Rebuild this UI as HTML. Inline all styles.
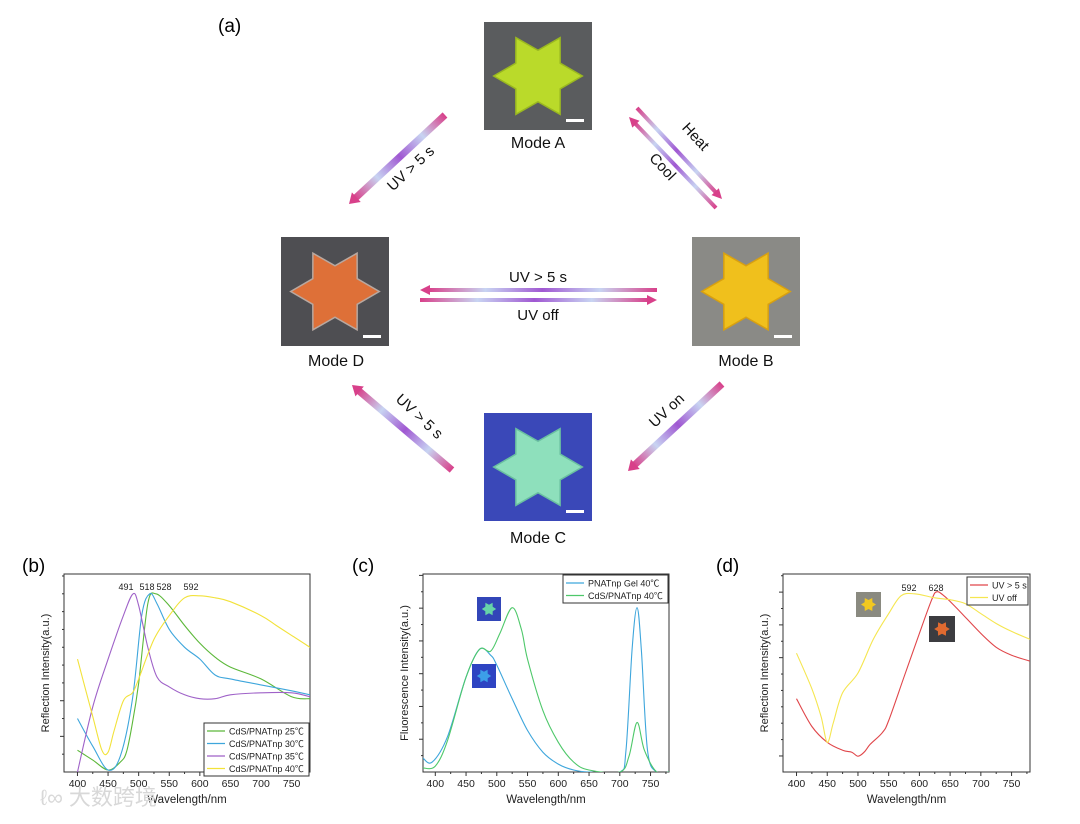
<!DOCTYPE html>
<html><head><meta charset="utf-8">
<style>
html,body{margin:0;padding:0;background:#fff;}
body{width:1080px;height:819px;overflow:hidden;font-family:"Liberation Sans","Noto Sans CJK SC",sans-serif;}
svg text{font-family:"Liberation Sans","Noto Sans CJK SC",sans-serif;}
</style></head>
<body>
<svg id="fig" width="1080" height="819" viewBox="0 0 1080 819" xmlns="http://www.w3.org/2000/svg">
<defs>
<linearGradient id="arrowGrad" x1="0" y1="0" x2="1" y2="0">
<stop offset="0" stop-color="#d8408a"/><stop offset="0.25" stop-color="#c8d4f2"/>
<stop offset="0.5" stop-color="#a058d2"/><stop offset="0.75" stop-color="#c8d4f2"/>
<stop offset="1" stop-color="#d8408a"/></linearGradient>
</defs>
<text x="218" y="32" font-size="19">(a)</text>
<text x="22" y="572" font-size="19">(b)</text>
<text x="352" y="572" font-size="19">(c)</text>
<text x="716" y="572" font-size="19">(d)</text>
<g id="diagram"></g>
<g id="charts"></g>
<text x="40" y="805" font-size="22" fill="#d8d8d8">ℓ∞ 大数跨境</text>
</svg>
<script>
// ---------- chart data ----------
const bWave25=[400,425,450,470,480,490,500,515,528,550,575,600,625,650,700,750,780];
const bVal25=[0.11,0.06,0.01,0.05,0.10,0.25,0.45,0.85,0.90,0.84,0.74,0.65,0.58,0.53,0.47,0.38,0.37];
const bWave30=[400,425,450,470,490,505,518,530,550,575,600,625,650,700,750,780];
const bVal30=[0.27,0.13,0.01,0.08,0.37,0.79,0.90,0.85,0.72,0.63,0.57,0.49,0.47,0.44,0.41,0.39];
const bWave35=[400,425,450,475,491,500,515,530,550,575,600,625,650,700,750,780];
const bVal35=[0.0,0.33,0.57,0.79,0.90,0.84,0.63,0.48,0.43,0.39,0.37,0.37,0.39,0.40,0.40,0.38];
const bWave40=[400,425,440,450,460,475,490,500,525,550,575,600,625,650,700,725,750,780];
const bVal40=[0.57,0.28,0.11,0.10,0.21,0.36,0.40,0.47,0.67,0.79,0.88,0.89,0.88,0.86,0.79,0.74,0.69,0.63];
const bPeaks=[491,518,528,592];
const xTicks=[400,450,500,550,600,650,700,750];

const cWaveGel=[380,395,420,450,472,490,500,525,550,575,600,625,650,700,710,720,728,735,745,760,780];
const cValGel=[0.07,0.05,0.18,0.48,0.62,0.59,0.54,0.37,0.21,0.10,0.04,0.01,0.0,0.0,0.11,0.62,0.83,0.62,0.11,0.0,0.0];
const cWaveCdS=[380,400,420,450,472,490,505,525,540,550,575,600,625,650,700,715,728,740,760,780];
const cValCdS=[0.02,0.03,0.16,0.48,0.62,0.61,0.70,0.83,0.72,0.57,0.31,0.15,0.05,0.01,0.0,0.08,0.25,0.11,0.0,0.0];

const dWaveOn=[400,425,450,475,490,500,510,520,540,550,575,600,620,628,640,660,700,725,750,780];
const dValOn=[0.37,0.23,0.15,0.11,0.10,0.08,0.10,0.14,0.20,0.26,0.48,0.70,0.87,0.91,0.89,0.83,0.70,0.63,0.59,0.56];
const dWaveOff=[400,425,440,450,460,475,500,525,550,570,592,625,650,675,700,725,750,780];
const dValOff=[0.60,0.42,0.28,0.15,0.25,0.40,0.50,0.67,0.80,0.89,0.90,0.88,0.87,0.85,0.80,0.75,0.71,0.67];
const dPeaks=[592,628];

const NS="http://www.w3.org/2000/svg";
function mk(tag,attrs,parent){const e=document.createElementNS(NS,tag);for(const k in attrs)e.setAttribute(k,attrs[k]);parent.appendChild(e);return e;}
function smooth(pts){let d="M"+pts[0][0].toFixed(1)+","+pts[0][1].toFixed(1);
 for(let i=0;i<pts.length-1;i++){const p0=pts[Math.max(0,i-1)],p1=pts[i],p2=pts[i+1],p3=pts[Math.min(pts.length-1,i+2)];
  const c1=[p1[0]+(p2[0]-p0[0])/6,p1[1]+(p2[1]-p0[1])/6],c2=[p2[0]-(p3[0]-p1[0])/6,p2[1]-(p3[1]-p1[1])/6];
  d+=" C"+c1[0].toFixed(1)+","+c1[1].toFixed(1)+" "+c2[0].toFixed(1)+","+c2[1].toFixed(1)+" "+p2[0].toFixed(1)+","+p2[1].toFixed(1);}
 return d;}
function starPts(cx,cy,R,ratio){const r=R*(ratio||0.6);let p=[];for(let i=0;i<12;i++){const a=-Math.PI/2+i*Math.PI/6+Math.PI/6;const rr=i%2?r:R;p.push((cx+rr*Math.cos(a)).toFixed(1)+","+(cy+rr*Math.sin(a)).toFixed(1));}return p.join(" ");}

const charts=document.getElementById('charts');
function panel(name,L,R,xmin,xmax,ylabel,tickStart,tickStep,series){
 const T=574,B=772;
 const g=mk('g',{},charts);
 
 
 const X=v=>L+(v-xmin)/(xmax-xmin)*(R-L);
 const Y=v=>B-v*(B-T);
 const frame=mk('rect',{x:L,y:T,width:R-L,height:B-T,fill:'none',stroke:'#333','stroke-width':1},g);
 
 
 xTicks.forEach(t=>{const x=X(t);
  const tk=mk('line',{x1:x,x2:x,y1:B,y2:B+4,stroke:'#333'},g);
  
  
  const tl=mk('text',{x:x,y:B+15,'font-size':10.5,'text-anchor':'middle',fill:'#222'},g);tl.textContent=t;
  
  });
 for(let t=xTicks[0]-25;t<=xmax;t+=50){if(t<xmin)continue;const x=X(t);mk('line',{x1:x,x2:x,y1:B,y2:B+2,stroke:'#333'},g);}
 for(let v=tickStart;v<1;v+=tickStep/2){const major=Math.abs(((v-tickStart)/tickStep)%1)<0.01;
  const y=Y(v);if(y>B-1)continue;const tk=mk('line',{x1:L-(major?4:2),x2:L,y1:y,y2:y,stroke:'#333'},g);
  
  }
 const xl=mk('text',{x:(L+R)/2,y:B+31,'font-size':11.5,'text-anchor':'middle',fill:'#222'},g);xl.textContent='Wavelength/nm';
 
 
 const yl=mk('text',{x:0,y:0,'font-size':11,'text-anchor':'middle',fill:'#222',transform:`translate(${L-15},${(T+B)/2}) rotate(-90)`},g);yl.textContent=ylabel;
 
 
 const cp=mk('clipPath',{id:'clip-'+name},g);mk('rect',{x:L,y:T,width:R-L,height:B-T},cp);
 series.forEach(s=>{const pts=s.w.map((w,i)=>[X(w),Y(s.v[i])]);
  const p=mk('path',{d:smooth(pts),fill:'none',stroke:s.c,'stroke-width':1.1,'clip-path':`url(#clip-${name})`},g);
  
  });
 return {g,X,Y};
}
const b=panel('chart-b',64,310,378,780,'Reflection Intensity(a.u.)',0,0.18,[
 {w:bWave25,v:bVal25,c:'#5cb83a',n:'line-25c'},{w:bWave30,v:bVal30,c:'#3ea6dc',n:'line-30c'},
 {w:bWave35,v:bVal35,c:'#9f62c8',n:'line-35c'},{w:bWave40,v:bVal40,c:'#f2e23a',n:'line-40c'}]);
bPeaks.forEach((p,i)=>{const t=mk('text',{x:[126,147,164,191][i],y:590,'font-size':9,'text-anchor':'middle',fill:'#222'},b.g);t.textContent=p;
 
 });
function legend(g,x,y,w,items,name){const h=items.length*12.5+3;
 const lg=mk('g',{},g);
 mk('rect',{x:x,y:y,width:w,height:h,fill:'#fff',stroke:'#333','stroke-width':1},lg);
 items.forEach((it,i)=>{const yy=y+8+i*12.5;mk('line',{x1:x+3,x2:x+21,y1:yy,y2:yy,stroke:it[1],'stroke-width':1.2},lg);
  const t=mk('text',{x:x+25,y:yy+3.5,'font-size':9,fill:'#222'},lg);t.textContent=it[0];
  
  });}
legend(b.g,204,723,105,[['CdS/PNATnp 25℃','#5cb83a'],['CdS/PNATnp 30℃','#3ea6dc'],['CdS/PNATnp 35℃','#9f62c8'],['CdS/PNATnp 40℃','#f2e23a']],'legend-b');

const c=panel('chart-c',423,669,380,780,'Fluorescence Intensity(a.u.)',0,0.1655,[
 {w:cWaveGel,v:cValGel,c:'#3ea6dc',n:'line-pnatnp-gel'},{w:cWaveCdS,v:cValCdS,c:'#4ec86a',n:'line-cds-pnatnp'}]);
legend(c.g,563,575,105,[['PNATnp Gel 40℃','#3ea6dc'],['CdS/PNATnp 40℃','#4ec86a']],'legend-c');
function inset(g,x,y,s,bg,fg,name){const ig=mk('g',{},g);
 mk('rect',{x:x,y:y,width:s,height:s,fill:bg},ig);mk('polygon',{points:starPts(x+s/2,y+s/2,s*0.3),fill:fg},ig);}
inset(c.g,477,597,24,'#3246b8','#66d4a8','inset-green-star');
inset(c.g,472,664,24,'#2e44c2','#3c9ee8','inset-blue-star');

const d=panel('chart-d',783,1030,378,780,'Reflection Intensity(a.u.)',0.081,0.1655,[
 {w:dWaveOn,v:dValOn,c:'#e0464a',n:'line-uv-on'},{w:dWaveOff,v:dValOff,c:'#f5e650',n:'line-uv-off'}]);
dPeaks.forEach((p,i)=>{const t=mk('text',{x:[909,936][i],y:591,'font-size':9,'text-anchor':'middle',fill:'#222'},d.g);t.textContent=p;
 
 });
legend(d.g,967,577,61,[['UV > 5 s','#e0464a'],['UV off','#f5e650']],'legend-d');
inset(d.g,856,592,25,'#8a8a80','#f2c820','inset-yellow-star');
inset(d.g,929,616,26,'#3c3c40','#e06a30','inset-orange-star');

// ---------- diagram ----------
const dg=document.getElementById('diagram');
function mode(x,y,w,h,bg,fg,edge,label,lx,ly,name){const g=mk('g',{},dg);
 
 
 mk('rect',{x:x,y:y,width:w,height:h,fill:bg},g);
 mk('polygon',{points:starPts(x+w/2,y+h/2,w*0.41,0.58),fill:fg,stroke:edge,'stroke-width':1.5},g);
 mk('rect',{x:x+w-26,y:y+h-11,width:18,height:3,fill:'#fff'},g);
 const t=mk('text',{x:lx,y:ly,'font-size':16,'text-anchor':'middle',fill:'#111'},g);t.textContent=label;}
mode(484,22,108,108,'#5a5c5e','#bada2a','#9ab820','Mode A',538,148,'mode-a');
mode(281,237,108,109,'#4e4e52','#de7038','#b8a8a0','Mode D',336,366,'mode-d');
mode(692,237,108,109,'#8a8a86','#f0c01c','#d8a010','Mode B',746,366,'mode-b');
mode(484,413,108,108,'#3a48b8','#8ee0bc','#6ac0a0','Mode C',538,543,'mode-c');
function arrow(x1,y1,x2,y2,w,name){const dx=x2-x1,dy=y2-y1,len=Math.hypot(dx,dy),ang=Math.atan2(dy,dx)*180/Math.PI;
 const g=mk('g',{transform:`translate(${x1},${y1}) rotate(${ang})`},dg);
 
 
 mk('rect',{x:0,y:-w/2,width:len-8,height:w,fill:'url(#arrowGrad)'},g);
 mk('polygon',{points:`${len-10},${-w/2-3} ${len},0 ${len-10},${w/2+3}`,fill:'#d8408a'},g);}
arrow(445,115,349,204,7,'arrow-a-to-d');
arrow(637,108,722,199,4,'arrow-heat');
arrow(716,208,629,117,4,'arrow-cool');
arrow(657,290,420,290,4,'arrow-b-to-d');
arrow(420,300,657,300,4,'arrow-d-to-b');
arrow(452,470,352,385,7,'arrow-c-to-d');
arrow(722,384,628,471,7,'arrow-b-to-c');
function lbl(x,y,rot,s,name){const t=mk('text',{x:0,y:0,'font-size':15,'text-anchor':'middle',fill:'#111',transform:`translate(${x},${y}) rotate(${rot})`},dg);t.textContent=s;
 
 }
lbl(414,172,-43,'UV > 5 s','label-uv-a-d');
lbl(692,140,47,'Heat','label-heat');
lbl(659,170,47,'Cool','label-cool');
lbl(538,282,0,'UV > 5 s','label-uv-b-d');
lbl(538,320,0,'UV off','label-uv-off');
lbl(416,420,43,'UV > 5 s','label-uv-c-d');
lbl(670,414,-43,'UV on','label-uv-on');
</script>
</body></html>
